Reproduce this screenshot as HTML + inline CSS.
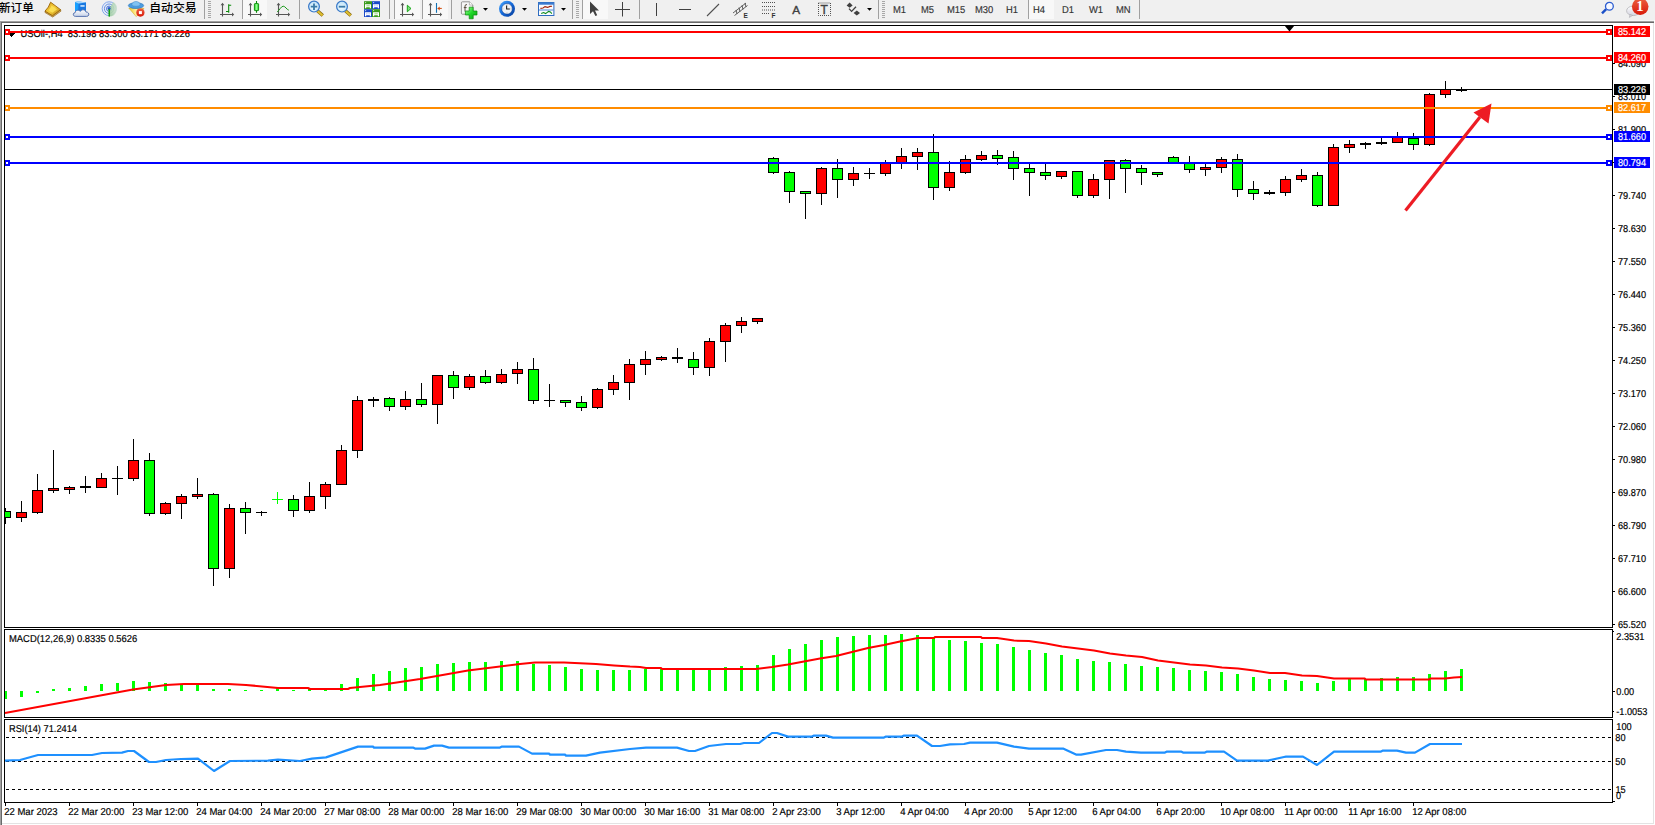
<!DOCTYPE html>
<html lang="zh-CN"><head><meta charset="utf-8"><title>USOil H4</title>
<style>
html,body{margin:0;padding:0;background:#fff;}
body{width:1655px;height:825px;overflow:hidden;position:relative;font-family:"Liberation Sans","Noto Sans CJK SC",sans-serif;}
#chart{position:absolute;left:0;top:0;}
#tb{position:absolute;left:0;top:0;width:1655px;height:20px;background:#f0f0f0;overflow:hidden;}
#tbline{position:absolute;left:0;top:20px;width:1654px;height:3px;background:linear-gradient(#f6f6f6 0,#f6f6f6 33.3%,#a0a0a0 33.3%,#a0a0a0 66.6%,#696969 66.6%,#696969 100%);}
#bl{position:absolute;left:0;top:22px;width:2px;height:803px;background:linear-gradient(90deg,#a0a0a0 0,#a0a0a0 50%,#696969 50%,#696969 100%);}
#br{position:absolute;left:1653px;top:23px;width:1px;height:801px;background:#e3e3e3;}
#bb{position:absolute;left:2px;top:823px;width:1652px;height:1px;background:#e3e3e3;}
#bb2{position:absolute;left:0;top:824px;width:1655px;height:1px;background:#f0f0f0;}
.t{position:absolute;white-space:nowrap;color:#000;}
.cj{font-size:11.6px;line-height:14px;top:0.5px;color:#000;font-weight:500;}
.tf{font-size:10px;line-height:12px;top:5.4px;color:#333;transform:scaleX(.94);transform-origin:0 0;text-rendering:geometricPrecision;-webkit-text-stroke:0.15px #333;}
.sep{position:absolute;top:0;width:1px;height:19px;background:#a0a0a0;}
.grip{position:absolute;top:1px;width:3px;height:18px;background:repeating-linear-gradient(#a8a8a8 0,#a8a8a8 1px,#f0f0f0 1px,#f0f0f0 2px);}
.pr{position:absolute;top:0;height:19px;background:#f8f8f8;border-left:1px solid #a0a0a0;box-sizing:border-box;}
.ic{position:absolute;top:0;overflow:visible;}
</style></head><body>
<svg id="chart" width="1655" height="825" viewBox="0 0 1655 825" shape-rendering="crispEdges">
<rect x="4" y="25" width="1609" height="1" fill="#000"/>
<rect x="4" y="627" width="1609" height="1" fill="#000"/>
<rect x="4" y="629" width="1609" height="1" fill="#000"/>
<rect x="4" y="717" width="1609" height="1" fill="#000"/>
<rect x="4" y="719" width="1609" height="1" fill="#000"/>
<rect x="4" y="802" width="1609" height="1" fill="#000"/>
<rect x="4" y="25" width="1" height="778" fill="#000"/>
<rect x="1612" y="25" width="1" height="778" fill="#000"/>
<g id="candles">
<rect x="5" y="508" width="1" height="16" fill="#000"/>
<rect x="0" y="511" width="11" height="7" fill="#000"/>
<rect x="1" y="512" width="9" height="5" fill="#00ff00"/>
<rect x="21" y="501" width="1" height="21" fill="#000"/>
<rect x="16" y="512" width="11" height="6" fill="#000"/>
<rect x="17" y="513" width="9" height="4" fill="#ff0000"/>
<rect x="37" y="474" width="1" height="40" fill="#000"/>
<rect x="32" y="490" width="11" height="23" fill="#000"/>
<rect x="33" y="491" width="9" height="21" fill="#ff0000"/>
<rect x="53" y="450" width="1" height="43" fill="#000"/>
<rect x="48" y="488" width="11" height="3" fill="#000"/>
<rect x="49" y="489" width="9" height="1" fill="#ff0000"/>
<rect x="69" y="486" width="1" height="8" fill="#000"/>
<rect x="64" y="487" width="11" height="3" fill="#000"/>
<rect x="65" y="488" width="9" height="1" fill="#ff0000"/>
<rect x="85" y="476" width="1" height="17" fill="#000"/>
<rect x="80" y="486" width="11" height="2" fill="#000"/>
<rect x="101" y="473" width="1" height="15" fill="#000"/>
<rect x="96" y="478" width="11" height="10" fill="#000"/>
<rect x="97" y="479" width="9" height="8" fill="#ff0000"/>
<rect x="117" y="466" width="1" height="29" fill="#000"/>
<rect x="112" y="478" width="11" height="1" fill="#000"/>
<rect x="133" y="439" width="1" height="42" fill="#000"/>
<rect x="128" y="460" width="11" height="19" fill="#000"/>
<rect x="129" y="461" width="9" height="17" fill="#ff0000"/>
<rect x="149" y="453" width="1" height="63" fill="#000"/>
<rect x="144" y="460" width="11" height="54" fill="#000"/>
<rect x="145" y="461" width="9" height="52" fill="#00ff00"/>
<rect x="165" y="502" width="1" height="13" fill="#000"/>
<rect x="160" y="503" width="11" height="11" fill="#000"/>
<rect x="161" y="504" width="9" height="9" fill="#ff0000"/>
<rect x="181" y="494" width="1" height="25" fill="#000"/>
<rect x="176" y="496" width="11" height="8" fill="#000"/>
<rect x="177" y="497" width="9" height="6" fill="#ff0000"/>
<rect x="197" y="478" width="1" height="21" fill="#000"/>
<rect x="192" y="494" width="11" height="3" fill="#000"/>
<rect x="193" y="495" width="9" height="1" fill="#ff0000"/>
<rect x="213" y="493" width="1" height="93" fill="#000"/>
<rect x="208" y="494" width="11" height="75" fill="#000"/>
<rect x="209" y="495" width="9" height="73" fill="#00ff00"/>
<rect x="229" y="504" width="1" height="74" fill="#000"/>
<rect x="224" y="508" width="11" height="61" fill="#000"/>
<rect x="225" y="509" width="9" height="59" fill="#ff0000"/>
<rect x="245" y="502" width="1" height="32" fill="#000"/>
<rect x="240" y="508" width="11" height="5" fill="#000"/>
<rect x="241" y="509" width="9" height="3" fill="#00ff00"/>
<rect x="261" y="511" width="1" height="5" fill="#000"/>
<rect x="256" y="512" width="11" height="1" fill="#000"/>
<rect x="277" y="492" width="1" height="12" fill="#00ff00"/>
<rect x="272" y="499" width="11" height="1" fill="#00ff00"/>
<rect x="293" y="495" width="1" height="22" fill="#000"/>
<rect x="288" y="499" width="11" height="12" fill="#000"/>
<rect x="289" y="500" width="9" height="10" fill="#00ff00"/>
<rect x="309" y="482" width="1" height="31" fill="#000"/>
<rect x="304" y="496" width="11" height="15" fill="#000"/>
<rect x="305" y="497" width="9" height="13" fill="#ff0000"/>
<rect x="325" y="482" width="1" height="27" fill="#000"/>
<rect x="320" y="484" width="11" height="13" fill="#000"/>
<rect x="321" y="485" width="9" height="11" fill="#ff0000"/>
<rect x="341" y="445" width="1" height="40" fill="#000"/>
<rect x="336" y="450" width="11" height="35" fill="#000"/>
<rect x="337" y="451" width="9" height="33" fill="#ff0000"/>
<rect x="357" y="396" width="1" height="62" fill="#000"/>
<rect x="352" y="400" width="11" height="51" fill="#000"/>
<rect x="353" y="401" width="9" height="49" fill="#ff0000"/>
<rect x="373" y="397" width="1" height="10" fill="#000"/>
<rect x="368" y="399" width="11" height="2" fill="#000"/>
<rect x="389" y="397" width="1" height="14" fill="#000"/>
<rect x="384" y="398" width="11" height="9" fill="#000"/>
<rect x="385" y="399" width="9" height="7" fill="#00ff00"/>
<rect x="405" y="391" width="1" height="19" fill="#000"/>
<rect x="400" y="399" width="11" height="8" fill="#000"/>
<rect x="401" y="400" width="9" height="6" fill="#ff0000"/>
<rect x="421" y="383" width="1" height="24" fill="#000"/>
<rect x="416" y="399" width="11" height="6" fill="#000"/>
<rect x="417" y="400" width="9" height="4" fill="#00ff00"/>
<rect x="437" y="375" width="1" height="49" fill="#000"/>
<rect x="432" y="375" width="11" height="30" fill="#000"/>
<rect x="433" y="376" width="9" height="28" fill="#ff0000"/>
<rect x="453" y="371" width="1" height="28" fill="#000"/>
<rect x="448" y="375" width="11" height="13" fill="#000"/>
<rect x="449" y="376" width="9" height="11" fill="#00ff00"/>
<rect x="469" y="374" width="1" height="16" fill="#000"/>
<rect x="464" y="376" width="11" height="12" fill="#000"/>
<rect x="465" y="377" width="9" height="10" fill="#ff0000"/>
<rect x="485" y="370" width="1" height="14" fill="#000"/>
<rect x="480" y="376" width="11" height="7" fill="#000"/>
<rect x="481" y="377" width="9" height="5" fill="#00ff00"/>
<rect x="501" y="369" width="1" height="15" fill="#000"/>
<rect x="496" y="374" width="11" height="9" fill="#000"/>
<rect x="497" y="375" width="9" height="7" fill="#ff0000"/>
<rect x="517" y="362" width="1" height="22" fill="#000"/>
<rect x="512" y="369" width="11" height="5" fill="#000"/>
<rect x="513" y="370" width="9" height="3" fill="#ff0000"/>
<rect x="533" y="358" width="1" height="46" fill="#000"/>
<rect x="528" y="369" width="11" height="32" fill="#000"/>
<rect x="529" y="370" width="9" height="30" fill="#00ff00"/>
<rect x="549" y="384" width="1" height="23" fill="#000"/>
<rect x="544" y="400" width="11" height="1" fill="#000"/>
<rect x="565" y="400" width="1" height="7" fill="#000"/>
<rect x="560" y="400" width="11" height="3" fill="#000"/>
<rect x="561" y="401" width="9" height="1" fill="#00ff00"/>
<rect x="581" y="396" width="1" height="15" fill="#000"/>
<rect x="576" y="402" width="11" height="6" fill="#000"/>
<rect x="577" y="403" width="9" height="4" fill="#00ff00"/>
<rect x="597" y="388" width="1" height="21" fill="#000"/>
<rect x="592" y="389" width="11" height="19" fill="#000"/>
<rect x="593" y="390" width="9" height="17" fill="#ff0000"/>
<rect x="613" y="375" width="1" height="20" fill="#000"/>
<rect x="608" y="382" width="11" height="8" fill="#000"/>
<rect x="609" y="383" width="9" height="6" fill="#ff0000"/>
<rect x="629" y="359" width="1" height="41" fill="#000"/>
<rect x="624" y="364" width="11" height="19" fill="#000"/>
<rect x="625" y="365" width="9" height="17" fill="#ff0000"/>
<rect x="645" y="351" width="1" height="24" fill="#000"/>
<rect x="640" y="359" width="11" height="6" fill="#000"/>
<rect x="641" y="360" width="9" height="4" fill="#ff0000"/>
<rect x="661" y="356" width="1" height="5" fill="#000"/>
<rect x="656" y="357" width="11" height="3" fill="#000"/>
<rect x="657" y="358" width="9" height="1" fill="#ff0000"/>
<rect x="677" y="348" width="1" height="15" fill="#000"/>
<rect x="672" y="357" width="11" height="2" fill="#000"/>
<rect x="693" y="352" width="1" height="23" fill="#000"/>
<rect x="688" y="359" width="11" height="9" fill="#000"/>
<rect x="689" y="360" width="9" height="7" fill="#00ff00"/>
<rect x="709" y="338" width="1" height="38" fill="#000"/>
<rect x="704" y="341" width="11" height="27" fill="#000"/>
<rect x="705" y="342" width="9" height="25" fill="#ff0000"/>
<rect x="725" y="323" width="1" height="39" fill="#000"/>
<rect x="720" y="325" width="11" height="17" fill="#000"/>
<rect x="721" y="326" width="9" height="15" fill="#ff0000"/>
<rect x="741" y="317" width="1" height="16" fill="#000"/>
<rect x="736" y="321" width="11" height="5" fill="#000"/>
<rect x="737" y="322" width="9" height="3" fill="#ff0000"/>
<rect x="757" y="318" width="1" height="6" fill="#000"/>
<rect x="752" y="318" width="11" height="4" fill="#000"/>
<rect x="753" y="319" width="9" height="2" fill="#ff0000"/>
<rect x="773" y="157" width="1" height="17" fill="#000"/>
<rect x="768" y="158" width="11" height="15" fill="#000"/>
<rect x="769" y="159" width="9" height="13" fill="#00ff00"/>
<rect x="789" y="171" width="1" height="32" fill="#000"/>
<rect x="784" y="172" width="11" height="20" fill="#000"/>
<rect x="785" y="173" width="9" height="18" fill="#00ff00"/>
<rect x="805" y="191" width="1" height="28" fill="#000"/>
<rect x="800" y="191" width="11" height="3" fill="#000"/>
<rect x="801" y="192" width="9" height="1" fill="#00ff00"/>
<rect x="821" y="167" width="1" height="38" fill="#000"/>
<rect x="816" y="168" width="11" height="26" fill="#000"/>
<rect x="817" y="169" width="9" height="24" fill="#ff0000"/>
<rect x="837" y="159" width="1" height="39" fill="#000"/>
<rect x="832" y="168" width="11" height="12" fill="#000"/>
<rect x="833" y="169" width="9" height="10" fill="#00ff00"/>
<rect x="853" y="167" width="1" height="19" fill="#000"/>
<rect x="848" y="173" width="11" height="7" fill="#000"/>
<rect x="849" y="174" width="9" height="5" fill="#ff0000"/>
<rect x="869" y="168" width="1" height="11" fill="#000"/>
<rect x="864" y="173" width="11" height="1" fill="#000"/>
<rect x="885" y="160" width="1" height="16" fill="#000"/>
<rect x="880" y="162" width="11" height="12" fill="#000"/>
<rect x="881" y="163" width="9" height="10" fill="#ff0000"/>
<rect x="901" y="148" width="1" height="21" fill="#000"/>
<rect x="896" y="156" width="11" height="8" fill="#000"/>
<rect x="897" y="157" width="9" height="6" fill="#ff0000"/>
<rect x="917" y="148" width="1" height="22" fill="#000"/>
<rect x="912" y="152" width="11" height="5" fill="#000"/>
<rect x="913" y="153" width="9" height="3" fill="#ff0000"/>
<rect x="933" y="134" width="1" height="66" fill="#000"/>
<rect x="928" y="152" width="11" height="36" fill="#000"/>
<rect x="929" y="153" width="9" height="34" fill="#00ff00"/>
<rect x="949" y="161" width="1" height="30" fill="#000"/>
<rect x="944" y="172" width="11" height="16" fill="#000"/>
<rect x="945" y="173" width="9" height="14" fill="#ff0000"/>
<rect x="965" y="155" width="1" height="19" fill="#000"/>
<rect x="960" y="159" width="11" height="14" fill="#000"/>
<rect x="961" y="160" width="9" height="12" fill="#ff0000"/>
<rect x="981" y="151" width="1" height="10" fill="#000"/>
<rect x="976" y="155" width="11" height="5" fill="#000"/>
<rect x="977" y="156" width="9" height="3" fill="#ff0000"/>
<rect x="997" y="150" width="1" height="15" fill="#000"/>
<rect x="992" y="155" width="11" height="4" fill="#000"/>
<rect x="993" y="156" width="9" height="2" fill="#00ff00"/>
<rect x="1013" y="151" width="1" height="29" fill="#000"/>
<rect x="1008" y="157" width="11" height="12" fill="#000"/>
<rect x="1009" y="158" width="9" height="10" fill="#00ff00"/>
<rect x="1029" y="164" width="1" height="32" fill="#000"/>
<rect x="1024" y="168" width="11" height="5" fill="#000"/>
<rect x="1025" y="169" width="9" height="3" fill="#00ff00"/>
<rect x="1045" y="164" width="1" height="16" fill="#000"/>
<rect x="1040" y="172" width="11" height="4" fill="#000"/>
<rect x="1041" y="173" width="9" height="2" fill="#00ff00"/>
<rect x="1061" y="171" width="1" height="8" fill="#000"/>
<rect x="1056" y="171" width="11" height="6" fill="#000"/>
<rect x="1057" y="172" width="9" height="4" fill="#ff0000"/>
<rect x="1077" y="171" width="1" height="27" fill="#000"/>
<rect x="1072" y="171" width="11" height="25" fill="#000"/>
<rect x="1073" y="172" width="9" height="23" fill="#00ff00"/>
<rect x="1093" y="174" width="1" height="24" fill="#000"/>
<rect x="1088" y="179" width="11" height="17" fill="#000"/>
<rect x="1089" y="180" width="9" height="15" fill="#ff0000"/>
<rect x="1109" y="160" width="1" height="39" fill="#000"/>
<rect x="1104" y="160" width="11" height="20" fill="#000"/>
<rect x="1105" y="161" width="9" height="18" fill="#ff0000"/>
<rect x="1125" y="159" width="1" height="34" fill="#000"/>
<rect x="1120" y="160" width="11" height="9" fill="#000"/>
<rect x="1121" y="161" width="9" height="7" fill="#00ff00"/>
<rect x="1141" y="165" width="1" height="20" fill="#000"/>
<rect x="1136" y="168" width="11" height="5" fill="#000"/>
<rect x="1137" y="169" width="9" height="3" fill="#00ff00"/>
<rect x="1157" y="172" width="1" height="5" fill="#000"/>
<rect x="1152" y="172" width="11" height="3" fill="#000"/>
<rect x="1153" y="173" width="9" height="1" fill="#00ff00"/>
<rect x="1173" y="156" width="1" height="8" fill="#000"/>
<rect x="1168" y="157" width="11" height="7" fill="#000"/>
<rect x="1169" y="158" width="9" height="5" fill="#00ff00"/>
<rect x="1189" y="156" width="1" height="17" fill="#000"/>
<rect x="1184" y="162" width="11" height="8" fill="#000"/>
<rect x="1185" y="163" width="9" height="6" fill="#00ff00"/>
<rect x="1205" y="164" width="1" height="12" fill="#000"/>
<rect x="1200" y="167" width="11" height="3" fill="#000"/>
<rect x="1201" y="168" width="9" height="1" fill="#ff0000"/>
<rect x="1221" y="157" width="1" height="16" fill="#000"/>
<rect x="1216" y="159" width="11" height="9" fill="#000"/>
<rect x="1217" y="160" width="9" height="7" fill="#ff0000"/>
<rect x="1237" y="154" width="1" height="43" fill="#000"/>
<rect x="1232" y="159" width="11" height="31" fill="#000"/>
<rect x="1233" y="160" width="9" height="29" fill="#00ff00"/>
<rect x="1253" y="181" width="1" height="19" fill="#000"/>
<rect x="1248" y="189" width="11" height="5" fill="#000"/>
<rect x="1249" y="190" width="9" height="3" fill="#00ff00"/>
<rect x="1269" y="190" width="1" height="5" fill="#000"/>
<rect x="1264" y="192" width="11" height="2" fill="#000"/>
<rect x="1285" y="176" width="1" height="20" fill="#000"/>
<rect x="1280" y="179" width="11" height="14" fill="#000"/>
<rect x="1281" y="180" width="9" height="12" fill="#ff0000"/>
<rect x="1301" y="169" width="1" height="13" fill="#000"/>
<rect x="1296" y="175" width="11" height="5" fill="#000"/>
<rect x="1297" y="176" width="9" height="3" fill="#ff0000"/>
<rect x="1317" y="172" width="1" height="35" fill="#000"/>
<rect x="1312" y="175" width="11" height="31" fill="#000"/>
<rect x="1313" y="176" width="9" height="29" fill="#00ff00"/>
<rect x="1333" y="144" width="1" height="62" fill="#000"/>
<rect x="1328" y="147" width="11" height="59" fill="#000"/>
<rect x="1329" y="148" width="9" height="57" fill="#ff0000"/>
<rect x="1349" y="140" width="1" height="13" fill="#000"/>
<rect x="1344" y="144" width="11" height="4" fill="#000"/>
<rect x="1345" y="145" width="9" height="2" fill="#ff0000"/>
<rect x="1365" y="142" width="1" height="7" fill="#000"/>
<rect x="1360" y="143" width="11" height="2" fill="#000"/>
<rect x="1381" y="138" width="1" height="7" fill="#000"/>
<rect x="1376" y="142" width="11" height="2" fill="#000"/>
<rect x="1397" y="132" width="1" height="11" fill="#000"/>
<rect x="1392" y="137" width="11" height="6" fill="#000"/>
<rect x="1393" y="138" width="9" height="4" fill="#ff0000"/>
<rect x="1413" y="133" width="1" height="17" fill="#000"/>
<rect x="1408" y="138" width="11" height="7" fill="#000"/>
<rect x="1409" y="139" width="9" height="5" fill="#00ff00"/>
<rect x="1429" y="93" width="1" height="53" fill="#000"/>
<rect x="1424" y="94" width="11" height="51" fill="#000"/>
<rect x="1425" y="95" width="9" height="49" fill="#ff0000"/>
<rect x="1445" y="81" width="1" height="17" fill="#000"/>
<rect x="1440" y="89" width="11" height="6" fill="#000"/>
<rect x="1441" y="90" width="9" height="4" fill="#ff0000"/>
<rect x="1461" y="87" width="1" height="5" fill="#000"/>
<rect x="1456" y="90" width="11" height="1" fill="#000"/>
</g>
<rect x="2" y="26" width="2" height="600" fill="#fff"/>
<text transform="translate(20.5 36.9) scale(0.918 1)" font-family="Liberation Sans, sans-serif" font-size="10.0" text-rendering="geometricPrecision" fill="#000" stroke="#000" stroke-width="0.18" textLength="184.641" lengthAdjust="spacingAndGlyphs" xml:space="preserve">USOil-,H4  83.198 83.300 83.171 83.226</text>
<rect x="8" y="33" width="7" height="1" fill="#000"/>
<rect x="9" y="34" width="5" height="1" fill="#000"/>
<rect x="10" y="35" width="3" height="1" fill="#000"/>
<rect x="11" y="36" width="1" height="1" fill="#000"/>
<rect x="4" y="89" width="1609" height="1" fill="#000"/>
<rect x="4" y="31" width="1608" height="2" fill="#ff0000"/>
<rect x="4" y="57" width="1608" height="2" fill="#ff0000"/>
<rect x="4" y="107" width="1608" height="2" fill="#ff8c00"/>
<rect x="4" y="136" width="1608" height="2" fill="#0000ff"/>
<rect x="4" y="162" width="1608" height="2" fill="#0000ff"/>
<rect x="4" y="29" width="6" height="6" fill="#ff0000"/>
<rect x="6" y="31" width="2" height="2" fill="#fff"/>
<rect x="1606" y="29" width="6" height="6" fill="#ff0000"/>
<rect x="1608" y="31" width="2" height="2" fill="#fff"/>
<rect x="4" y="55" width="6" height="6" fill="#ff0000"/>
<rect x="6" y="57" width="2" height="2" fill="#fff"/>
<rect x="1606" y="55" width="6" height="6" fill="#ff0000"/>
<rect x="1608" y="57" width="2" height="2" fill="#fff"/>
<rect x="4" y="105" width="6" height="6" fill="#ff8c00"/>
<rect x="6" y="107" width="2" height="2" fill="#fff"/>
<rect x="1606" y="105" width="6" height="6" fill="#ff8c00"/>
<rect x="1608" y="107" width="2" height="2" fill="#fff"/>
<rect x="4" y="134" width="6" height="6" fill="#0000ff"/>
<rect x="6" y="136" width="2" height="2" fill="#fff"/>
<rect x="1606" y="134" width="6" height="6" fill="#0000ff"/>
<rect x="1608" y="136" width="2" height="2" fill="#fff"/>
<rect x="4" y="160" width="6" height="6" fill="#0000ff"/>
<rect x="6" y="162" width="2" height="2" fill="#fff"/>
<rect x="1606" y="160" width="6" height="6" fill="#0000ff"/>
<rect x="1608" y="162" width="2" height="2" fill="#fff"/>
<g shape-rendering="geometricPrecision"><line x1="1405.5" y1="210.5" x2="1480" y2="117" stroke="#ed1c24" stroke-width="3.2"/><polygon points="1491.5,103.5 1473.5,112.5 1488.5,123.5" fill="#ed1c24"/></g>
<polygon points="1284.5,25.5 1294.5,25.5 1289.5,31.5" fill="#000" shape-rendering="geometricPrecision"/>
<g id="macd" fill="#00ff00">
<rect x="52" y="689" width="3" height="2"/>
<rect x="68" y="688" width="3" height="3"/>
<rect x="84" y="686" width="3" height="5"/>
<rect x="100" y="684" width="3" height="7"/>
<rect x="116" y="683" width="3" height="8"/>
<rect x="132" y="681" width="3" height="10"/>
<rect x="148" y="682" width="3" height="9"/>
<rect x="164" y="683" width="3" height="8"/>
<rect x="180" y="684" width="3" height="7"/>
<rect x="196" y="685" width="3" height="6"/>
<rect x="212" y="689" width="3" height="2"/>
<rect x="228" y="689" width="3" height="2"/>
<rect x="244" y="690" width="3" height="1"/>
<rect x="260" y="690" width="3" height="1"/>
<rect x="276" y="688" width="3" height="3"/>
<rect x="292" y="690" width="3" height="1"/>
<rect x="308" y="689" width="3" height="2"/>
<rect x="324" y="689" width="3" height="2"/>
<rect x="340" y="684" width="3" height="7"/>
<rect x="356" y="678" width="3" height="13"/>
<rect x="372" y="674" width="3" height="17"/>
<rect x="388" y="671" width="3" height="20"/>
<rect x="404" y="668" width="3" height="23"/>
<rect x="420" y="667" width="3" height="24"/>
<rect x="436" y="664" width="3" height="27"/>
<rect x="452" y="663" width="3" height="28"/>
<rect x="468" y="662" width="3" height="29"/>
<rect x="484" y="662" width="3" height="29"/>
<rect x="500" y="661" width="3" height="30"/>
<rect x="516" y="661" width="3" height="30"/>
<rect x="532" y="664" width="3" height="27"/>
<rect x="548" y="665" width="3" height="26"/>
<rect x="564" y="667" width="3" height="24"/>
<rect x="580" y="669" width="3" height="22"/>
<rect x="596" y="670" width="3" height="21"/>
<rect x="612" y="670" width="3" height="21"/>
<rect x="628" y="670" width="3" height="21"/>
<rect x="644" y="669" width="3" height="22"/>
<rect x="660" y="669" width="3" height="22"/>
<rect x="676" y="670" width="3" height="21"/>
<rect x="692" y="670" width="3" height="21"/>
<rect x="708" y="670" width="3" height="21"/>
<rect x="724" y="667" width="3" height="24"/>
<rect x="740" y="666" width="3" height="25"/>
<rect x="756" y="665" width="3" height="26"/>
<rect x="772" y="655" width="3" height="36"/>
<rect x="788" y="649" width="3" height="42"/>
<rect x="804" y="644" width="3" height="47"/>
<rect x="820" y="640" width="3" height="51"/>
<rect x="836" y="637" width="3" height="54"/>
<rect x="852" y="636" width="3" height="55"/>
<rect x="868" y="635" width="3" height="56"/>
<rect x="884" y="635" width="3" height="56"/>
<rect x="900" y="634" width="3" height="57"/>
<rect x="916" y="635" width="3" height="56"/>
<rect x="932" y="638" width="3" height="53"/>
<rect x="948" y="640" width="3" height="51"/>
<rect x="964" y="641" width="3" height="50"/>
<rect x="980" y="643" width="3" height="48"/>
<rect x="996" y="644" width="3" height="47"/>
<rect x="1012" y="647" width="3" height="44"/>
<rect x="1028" y="650" width="3" height="41"/>
<rect x="1044" y="653" width="3" height="38"/>
<rect x="1060" y="655" width="3" height="36"/>
<rect x="1076" y="659" width="3" height="32"/>
<rect x="1092" y="661" width="3" height="30"/>
<rect x="1108" y="662" width="3" height="29"/>
<rect x="1124" y="664" width="3" height="27"/>
<rect x="1140" y="666" width="3" height="25"/>
<rect x="1156" y="667" width="3" height="24"/>
<rect x="1172" y="668" width="3" height="23"/>
<rect x="1188" y="670" width="3" height="21"/>
<rect x="1204" y="671" width="3" height="20"/>
<rect x="1220" y="672" width="3" height="19"/>
<rect x="1236" y="674" width="3" height="17"/>
<rect x="1252" y="677" width="3" height="14"/>
<rect x="1268" y="679" width="3" height="12"/>
<rect x="1284" y="680" width="3" height="11"/>
<rect x="1300" y="681" width="3" height="10"/>
<rect x="1316" y="683" width="3" height="8"/>
<rect x="1332" y="681" width="3" height="10"/>
<rect x="1348" y="679" width="3" height="12"/>
<rect x="1364" y="679" width="3" height="12"/>
<rect x="1380" y="678" width="3" height="13"/>
<rect x="1396" y="677" width="3" height="14"/>
<rect x="1412" y="677" width="3" height="14"/>
<rect x="1428" y="674" width="3" height="17"/>
<rect x="1444" y="671" width="3" height="20"/>
<rect x="1460" y="669" width="3" height="22"/>
<rect x="4" y="691" width="3" height="8"/>
<rect x="20" y="691" width="3" height="6"/>
<rect x="36" y="691" width="3" height="2"/>
</g>
<rect x="2" y="630" width="2" height="86" fill="#fff"/>
<polyline points="5,713 133,689.4 166,685 184,684 228,684 246,685 262,686.4 278,688 308,688 310,689 348,689 350,688 380,685 420,679 468,670.6 520,664 535,662.6 564,662.6 596,664 614,665.4 630,666.6 640,667 646,668 661,668 662,669 756,669 772,667 788,664.6 804,661.4 820,658.6 836,656 852,652 868,648 884,645 900,641.4 918,638 934,638 935,637 981,637 982,638 997,638 1014,640.6 1029,641 1046,643.4 1062,646.6 1078,648.6 1094,650.4 1110,653.4 1126,655.4 1142,657 1158,660.6 1174,662.6 1190,664.6 1206,665.4 1222,667.4 1238,668.4 1254,670.6 1270,673 1285,673 1302,675.6 1317,676 1334,678.6 1365,678.6 1366,679.6 1429,679.6 1430,678.6 1445,678.6 1454,677.4 1462,677" fill="none" stroke="#ff0000" stroke-width="2" stroke-linejoin="round" shape-rendering="geometricPrecision"/>
<line x1="6" y1="737.5" x2="1612" y2="737.5" stroke="#000" stroke-width="1" stroke-dasharray="3,3"/>
<line x1="6" y1="761.5" x2="1612" y2="761.5" stroke="#000" stroke-width="1" stroke-dasharray="3,3"/>
<line x1="6" y1="789.5" x2="1612" y2="789.5" stroke="#000" stroke-width="1" stroke-dasharray="3,3"/>
<polyline points="5,760.6 20,760 38,755 92,755 102,753 122,752.6 128,751 134,751 149,762 156,762 166,760 181,759 198,758.6 214,771 230,761 268,760.6 278,759.6 300,761 312,758.6 326,757.4 358,746.6 373,746.6 374,747.6 413,747.6 415,748.6 425,748.6 434,745.6 442,745.6 449,747.6 500,747.6 502,746.6 519,746.6 532,753.6 549,753.6 550,754.6 565,754.6 566,755.6 586,755.6 600,752.6 630,749 646,747.6 677,747.6 689,751 695,751 709,746 726,744 740,744 744,743 759,743 772,733 777,733 788,736.6 812,736.6 814,735.6 826,735.6 833,737.6 884,737.6 886,736.6 902,736.6 904,735.6 917,735.6 932,746 940,746 950,744.4 964,744 970,742.6 997,742.6 1014,746.6 1029,748.6 1063,748.6 1076,754.6 1081,754.6 1106,750 1117,750 1126,751.6 1141,752.6 1165,752.6 1167,751.6 1181,751.6 1183,752.6 1205,752.6 1207,751.6 1224,751.6 1237,760.6 1268,760.6 1284,757 1286,756.6 1303,756.6 1317,765 1334,751.6 1381,751.6 1383,750.6 1397,750.6 1406,752.6 1415,752.6 1430,744 1462,744" fill="none" stroke="#1e90ff" stroke-width="2.2" stroke-linejoin="round" shape-rendering="geometricPrecision"/>
<rect x="4" y="25" width="1" height="778" fill="#000"/>
<rect x="4" y="628" width="1" height="1" fill="#fff"/>
<rect x="4" y="718" width="1" height="1" fill="#fff"/>
<rect x="1612" y="628" width="1" height="1" fill="#fff"/>
<rect x="1612" y="718" width="1" height="1" fill="#fff"/>
<g shape-rendering="geometricPrecision">
<rect x="1613" y="63" width="2" height="1" fill="#000"/>
<text transform="translate(1618 67) scale(0.918 1)" font-family="Liberation Sans, sans-serif" font-size="10.0" text-rendering="geometricPrecision" fill="#000" stroke="#000" stroke-width="0.18">84.090</text>
<rect x="1613" y="96" width="2" height="1" fill="#000"/>
<text transform="translate(1618 100) scale(0.918 1)" font-family="Liberation Sans, sans-serif" font-size="10.0" text-rendering="geometricPrecision" fill="#000" stroke="#000" stroke-width="0.18">83.010</text>
<rect x="1613" y="129" width="2" height="1" fill="#000"/>
<text transform="translate(1618 133) scale(0.918 1)" font-family="Liberation Sans, sans-serif" font-size="10.0" text-rendering="geometricPrecision" fill="#000" stroke="#000" stroke-width="0.18">81.900</text>
<rect x="1613" y="162" width="2" height="1" fill="#000"/>
<text transform="translate(1618 166) scale(0.918 1)" font-family="Liberation Sans, sans-serif" font-size="10.0" text-rendering="geometricPrecision" fill="#000" stroke="#000" stroke-width="0.18">80.820</text>
<rect x="1613" y="195" width="2" height="1" fill="#000"/>
<text transform="translate(1618 199) scale(0.918 1)" font-family="Liberation Sans, sans-serif" font-size="10.0" text-rendering="geometricPrecision" fill="#000" stroke="#000" stroke-width="0.18">79.740</text>
<rect x="1613" y="228" width="2" height="1" fill="#000"/>
<text transform="translate(1618 232) scale(0.918 1)" font-family="Liberation Sans, sans-serif" font-size="10.0" text-rendering="geometricPrecision" fill="#000" stroke="#000" stroke-width="0.18">78.630</text>
<rect x="1613" y="261" width="2" height="1" fill="#000"/>
<text transform="translate(1618 265) scale(0.918 1)" font-family="Liberation Sans, sans-serif" font-size="10.0" text-rendering="geometricPrecision" fill="#000" stroke="#000" stroke-width="0.18">77.550</text>
<rect x="1613" y="294" width="2" height="1" fill="#000"/>
<text transform="translate(1618 298) scale(0.918 1)" font-family="Liberation Sans, sans-serif" font-size="10.0" text-rendering="geometricPrecision" fill="#000" stroke="#000" stroke-width="0.18">76.440</text>
<rect x="1613" y="327" width="2" height="1" fill="#000"/>
<text transform="translate(1618 331) scale(0.918 1)" font-family="Liberation Sans, sans-serif" font-size="10.0" text-rendering="geometricPrecision" fill="#000" stroke="#000" stroke-width="0.18">75.360</text>
<rect x="1613" y="360" width="2" height="1" fill="#000"/>
<text transform="translate(1618 364) scale(0.918 1)" font-family="Liberation Sans, sans-serif" font-size="10.0" text-rendering="geometricPrecision" fill="#000" stroke="#000" stroke-width="0.18">74.250</text>
<rect x="1613" y="393" width="2" height="1" fill="#000"/>
<text transform="translate(1618 397) scale(0.918 1)" font-family="Liberation Sans, sans-serif" font-size="10.0" text-rendering="geometricPrecision" fill="#000" stroke="#000" stroke-width="0.18">73.170</text>
<rect x="1613" y="426" width="2" height="1" fill="#000"/>
<text transform="translate(1618 430) scale(0.918 1)" font-family="Liberation Sans, sans-serif" font-size="10.0" text-rendering="geometricPrecision" fill="#000" stroke="#000" stroke-width="0.18">72.060</text>
<rect x="1613" y="459" width="2" height="1" fill="#000"/>
<text transform="translate(1618 463) scale(0.918 1)" font-family="Liberation Sans, sans-serif" font-size="10.0" text-rendering="geometricPrecision" fill="#000" stroke="#000" stroke-width="0.18">70.980</text>
<rect x="1613" y="492" width="2" height="1" fill="#000"/>
<text transform="translate(1618 496) scale(0.918 1)" font-family="Liberation Sans, sans-serif" font-size="10.0" text-rendering="geometricPrecision" fill="#000" stroke="#000" stroke-width="0.18">69.870</text>
<rect x="1613" y="525" width="2" height="1" fill="#000"/>
<text transform="translate(1618 529) scale(0.918 1)" font-family="Liberation Sans, sans-serif" font-size="10.0" text-rendering="geometricPrecision" fill="#000" stroke="#000" stroke-width="0.18">68.790</text>
<rect x="1613" y="558" width="2" height="1" fill="#000"/>
<text transform="translate(1618 562) scale(0.918 1)" font-family="Liberation Sans, sans-serif" font-size="10.0" text-rendering="geometricPrecision" fill="#000" stroke="#000" stroke-width="0.18">67.710</text>
<rect x="1613" y="591" width="2" height="1" fill="#000"/>
<text transform="translate(1618 595) scale(0.918 1)" font-family="Liberation Sans, sans-serif" font-size="10.0" text-rendering="geometricPrecision" fill="#000" stroke="#000" stroke-width="0.18">66.600</text>
<rect x="1613" y="624" width="2" height="1" fill="#000"/>
<text transform="translate(1618 628) scale(0.918 1)" font-family="Liberation Sans, sans-serif" font-size="10.0" text-rendering="geometricPrecision" fill="#000" stroke="#000" stroke-width="0.18">65.520</text>
</g>
<rect x="1614" y="26" width="36" height="11" fill="#ff0000"/>
<text transform="translate(1618 34.9) scale(0.918 1)" font-family="Liberation Sans, sans-serif" font-size="10.0" text-rendering="geometricPrecision" fill="#fff" stroke="#fff" stroke-width="0.18">85.142</text>
<rect x="1614" y="52" width="36" height="11" fill="#ff0000"/>
<text transform="translate(1618 60.9) scale(0.918 1)" font-family="Liberation Sans, sans-serif" font-size="10.0" text-rendering="geometricPrecision" fill="#fff" stroke="#fff" stroke-width="0.18">84.260</text>
<rect x="1614" y="102" width="36" height="11" fill="#ff8c00"/>
<text transform="translate(1618 110.9) scale(0.918 1)" font-family="Liberation Sans, sans-serif" font-size="10.0" text-rendering="geometricPrecision" fill="#fff" stroke="#fff" stroke-width="0.18">82.617</text>
<rect x="1614" y="131" width="36" height="11" fill="#0000ff"/>
<text transform="translate(1618 139.9) scale(0.918 1)" font-family="Liberation Sans, sans-serif" font-size="10.0" text-rendering="geometricPrecision" fill="#fff" stroke="#fff" stroke-width="0.18">81.660</text>
<rect x="1614" y="157" width="36" height="11" fill="#0000ff"/>
<text transform="translate(1618 165.9) scale(0.918 1)" font-family="Liberation Sans, sans-serif" font-size="10.0" text-rendering="geometricPrecision" fill="#fff" stroke="#fff" stroke-width="0.18">80.794</text>
<rect x="1614" y="84" width="36" height="11" fill="#000"/>
<text transform="translate(1618 92.9) scale(0.918 1)" font-family="Liberation Sans, sans-serif" font-size="10.0" text-rendering="geometricPrecision" fill="#fff" stroke="#fff" stroke-width="0.18">83.226</text>
<g shape-rendering="geometricPrecision">
<text transform="translate(1616.3 640.1) scale(0.918 1)" font-family="Liberation Sans, sans-serif" font-size="10.0" text-rendering="geometricPrecision" fill="#000" stroke="#000" stroke-width="0.18">2.3531</text>
<text transform="translate(1616.3 695) scale(0.918 1)" font-family="Liberation Sans, sans-serif" font-size="10.0" text-rendering="geometricPrecision" fill="#000" stroke="#000" stroke-width="0.18">0.00</text>
<text transform="translate(1616.3 714.6) scale(0.918 1)" font-family="Liberation Sans, sans-serif" font-size="10.0" text-rendering="geometricPrecision" fill="#000" stroke="#000" stroke-width="0.18">-1.0053</text>
<text transform="translate(1616.3 730.2) scale(0.918 1)" font-family="Liberation Sans, sans-serif" font-size="10.0" text-rendering="geometricPrecision" fill="#000" stroke="#000" stroke-width="0.18">100</text>
<text transform="translate(1615.3 741.3) scale(0.918 1)" font-family="Liberation Sans, sans-serif" font-size="10.0" text-rendering="geometricPrecision" fill="#000" stroke="#000" stroke-width="0.18">80</text>
<text transform="translate(1615.3 765.3) scale(0.918 1)" font-family="Liberation Sans, sans-serif" font-size="10.0" text-rendering="geometricPrecision" fill="#000" stroke="#000" stroke-width="0.18">50</text>
<text transform="translate(1615.5 792.7) scale(0.918 1)" font-family="Liberation Sans, sans-serif" font-size="10.0" text-rendering="geometricPrecision" fill="#000" stroke="#000" stroke-width="0.18">15</text>
<text transform="translate(1616 798.8) scale(0.918 1)" font-family="Liberation Sans, sans-serif" font-size="10.0" text-rendering="geometricPrecision" fill="#000" stroke="#000" stroke-width="0.18">0</text>
</g>
<rect x="1613" y="631" width="1" height="1" fill="#000"/>
<rect x="1613" y="691" width="2" height="1" fill="#000"/>
<rect x="1613" y="711" width="1" height="1" fill="#000"/>
<rect x="1613" y="801" width="2" height="1" fill="#000"/>
<text transform="translate(9 641.6) scale(0.918 1)" font-family="Liberation Sans, sans-serif" font-size="10.0" text-rendering="geometricPrecision" fill="#000" stroke="#000" stroke-width="0.18" textLength="139.651" lengthAdjust="spacingAndGlyphs">MACD(12,26,9) 0.8335 0.5626</text>
<text transform="translate(9 731.7) scale(0.918 1)" font-family="Liberation Sans, sans-serif" font-size="10.0" text-rendering="geometricPrecision" fill="#000" stroke="#000" stroke-width="0.18" textLength="74.0741" lengthAdjust="spacingAndGlyphs">RSI(14) 71.2414</text>
<rect x="5" y="803" width="1" height="3" fill="#000"/>
<text transform="translate(4.2 815.2) scale(0.952 1)" font-family="Liberation Sans, sans-serif" font-size="10.0" text-rendering="geometricPrecision" fill="#000" stroke="#000" stroke-width="0.18">22 Mar 2023</text>
<rect x="69" y="803" width="1" height="3" fill="#000"/>
<text transform="translate(68.2 815.2) scale(0.952 1)" font-family="Liberation Sans, sans-serif" font-size="10.0" text-rendering="geometricPrecision" fill="#000" stroke="#000" stroke-width="0.18">22 Mar 20:00</text>
<rect x="133" y="803" width="1" height="3" fill="#000"/>
<text transform="translate(132.2 815.2) scale(0.952 1)" font-family="Liberation Sans, sans-serif" font-size="10.0" text-rendering="geometricPrecision" fill="#000" stroke="#000" stroke-width="0.18">23 Mar 12:00</text>
<rect x="197" y="803" width="1" height="3" fill="#000"/>
<text transform="translate(196.2 815.2) scale(0.952 1)" font-family="Liberation Sans, sans-serif" font-size="10.0" text-rendering="geometricPrecision" fill="#000" stroke="#000" stroke-width="0.18">24 Mar 04:00</text>
<rect x="261" y="803" width="1" height="3" fill="#000"/>
<text transform="translate(260.2 815.2) scale(0.952 1)" font-family="Liberation Sans, sans-serif" font-size="10.0" text-rendering="geometricPrecision" fill="#000" stroke="#000" stroke-width="0.18">24 Mar 20:00</text>
<rect x="325" y="803" width="1" height="3" fill="#000"/>
<text transform="translate(324.2 815.2) scale(0.952 1)" font-family="Liberation Sans, sans-serif" font-size="10.0" text-rendering="geometricPrecision" fill="#000" stroke="#000" stroke-width="0.18">27 Mar 08:00</text>
<rect x="389" y="803" width="1" height="3" fill="#000"/>
<text transform="translate(388.2 815.2) scale(0.952 1)" font-family="Liberation Sans, sans-serif" font-size="10.0" text-rendering="geometricPrecision" fill="#000" stroke="#000" stroke-width="0.18">28 Mar 00:00</text>
<rect x="453" y="803" width="1" height="3" fill="#000"/>
<text transform="translate(452.2 815.2) scale(0.952 1)" font-family="Liberation Sans, sans-serif" font-size="10.0" text-rendering="geometricPrecision" fill="#000" stroke="#000" stroke-width="0.18">28 Mar 16:00</text>
<rect x="517" y="803" width="1" height="3" fill="#000"/>
<text transform="translate(516.2 815.2) scale(0.952 1)" font-family="Liberation Sans, sans-serif" font-size="10.0" text-rendering="geometricPrecision" fill="#000" stroke="#000" stroke-width="0.18">29 Mar 08:00</text>
<rect x="581" y="803" width="1" height="3" fill="#000"/>
<text transform="translate(580.2 815.2) scale(0.952 1)" font-family="Liberation Sans, sans-serif" font-size="10.0" text-rendering="geometricPrecision" fill="#000" stroke="#000" stroke-width="0.18">30 Mar 00:00</text>
<rect x="645" y="803" width="1" height="3" fill="#000"/>
<text transform="translate(644.2 815.2) scale(0.952 1)" font-family="Liberation Sans, sans-serif" font-size="10.0" text-rendering="geometricPrecision" fill="#000" stroke="#000" stroke-width="0.18">30 Mar 16:00</text>
<rect x="709" y="803" width="1" height="3" fill="#000"/>
<text transform="translate(708.2 815.2) scale(0.952 1)" font-family="Liberation Sans, sans-serif" font-size="10.0" text-rendering="geometricPrecision" fill="#000" stroke="#000" stroke-width="0.18">31 Mar 08:00</text>
<rect x="773" y="803" width="1" height="3" fill="#000"/>
<text transform="translate(772.2 815.2) scale(0.952 1)" font-family="Liberation Sans, sans-serif" font-size="10.0" text-rendering="geometricPrecision" fill="#000" stroke="#000" stroke-width="0.18">2 Apr 23:00</text>
<rect x="837" y="803" width="1" height="3" fill="#000"/>
<text transform="translate(836.2 815.2) scale(0.952 1)" font-family="Liberation Sans, sans-serif" font-size="10.0" text-rendering="geometricPrecision" fill="#000" stroke="#000" stroke-width="0.18">3 Apr 12:00</text>
<rect x="901" y="803" width="1" height="3" fill="#000"/>
<text transform="translate(900.2 815.2) scale(0.952 1)" font-family="Liberation Sans, sans-serif" font-size="10.0" text-rendering="geometricPrecision" fill="#000" stroke="#000" stroke-width="0.18">4 Apr 04:00</text>
<rect x="965" y="803" width="1" height="3" fill="#000"/>
<text transform="translate(964.2 815.2) scale(0.952 1)" font-family="Liberation Sans, sans-serif" font-size="10.0" text-rendering="geometricPrecision" fill="#000" stroke="#000" stroke-width="0.18">4 Apr 20:00</text>
<rect x="1029" y="803" width="1" height="3" fill="#000"/>
<text transform="translate(1028.2 815.2) scale(0.952 1)" font-family="Liberation Sans, sans-serif" font-size="10.0" text-rendering="geometricPrecision" fill="#000" stroke="#000" stroke-width="0.18">5 Apr 12:00</text>
<rect x="1093" y="803" width="1" height="3" fill="#000"/>
<text transform="translate(1092.2 815.2) scale(0.952 1)" font-family="Liberation Sans, sans-serif" font-size="10.0" text-rendering="geometricPrecision" fill="#000" stroke="#000" stroke-width="0.18">6 Apr 04:00</text>
<rect x="1157" y="803" width="1" height="3" fill="#000"/>
<text transform="translate(1156.2 815.2) scale(0.952 1)" font-family="Liberation Sans, sans-serif" font-size="10.0" text-rendering="geometricPrecision" fill="#000" stroke="#000" stroke-width="0.18">6 Apr 20:00</text>
<rect x="1221" y="803" width="1" height="3" fill="#000"/>
<text transform="translate(1220.2 815.2) scale(0.952 1)" font-family="Liberation Sans, sans-serif" font-size="10.0" text-rendering="geometricPrecision" fill="#000" stroke="#000" stroke-width="0.18">10 Apr 08:00</text>
<rect x="1285" y="803" width="1" height="3" fill="#000"/>
<text transform="translate(1284.2 815.2) scale(0.952 1)" font-family="Liberation Sans, sans-serif" font-size="10.0" text-rendering="geometricPrecision" fill="#000" stroke="#000" stroke-width="0.18">11 Apr 00:00</text>
<rect x="1349" y="803" width="1" height="3" fill="#000"/>
<text transform="translate(1348.2 815.2) scale(0.952 1)" font-family="Liberation Sans, sans-serif" font-size="10.0" text-rendering="geometricPrecision" fill="#000" stroke="#000" stroke-width="0.18">11 Apr 16:00</text>
<rect x="1413" y="803" width="1" height="3" fill="#000"/>
<text transform="translate(1412.2 815.2) scale(0.952 1)" font-family="Liberation Sans, sans-serif" font-size="10.0" text-rendering="geometricPrecision" fill="#000" stroke="#000" stroke-width="0.18">12 Apr 08:00</text>
</svg>
<div id="tbline"></div>
<div id="tb"><div class="sep" style="left:204px"></div><div class="grip" style="left:208px"></div>
<div class="pr" style="left:242px;width:25px"></div>
<div class="sep" style="left:299px"></div>
<div class="sep" style="left:389px"></div>
<div class="pr" style="left:394px;width:26px"></div>
<div class="pr" style="left:422px;width:26px"></div>
<div class="sep" style="left:451px"></div>
<div class="sep" style="left:572px"></div><div class="grip" style="left:575.5px"></div>
<div class="pr" style="left:582px;width:26px"></div>
<div class="sep" style="left:639px"></div>
<div class="sep" style="left:878px"></div><div class="grip" style="left:881.5px"></div>
<div class="pr" style="left:1028px;width:26px"></div>
<div class="sep" style="left:1139px"></div>
<span class="t cj" style="left:-1px">新订单</span>
<span class="t cj" style="left:149.2px;font-size:11.9px">自动交易</span>
<svg class="ic" width="1655" height="20" viewBox="0 0 1655 20">
<defs>
<linearGradient id="gold" x1="0" y1="0" x2="1" y2="1"><stop offset="0" stop-color="#d8a020"/><stop offset="0.5" stop-color="#f4cc38"/><stop offset="1" stop-color="#b07c14"/></linearGradient>
<linearGradient id="sky" x1="0" y1="0" x2="0" y2="1"><stop offset="0" stop-color="#3aa0f0"/><stop offset="1" stop-color="#1668c8"/></linearGradient>
<radialGradient id="lens" cx="0.45" cy="0.6" r="0.7"><stop offset="0" stop-color="#f0fbff"/><stop offset="1" stop-color="#b4dcf6"/></radialGradient>
<linearGradient id="badge" x1="0" y1="0" x2="0" y2="1"><stop offset="0" stop-color="#ec6040"/><stop offset="1" stop-color="#d81808"/></linearGradient>
<radialGradient id="clk" cx="0.5" cy="0.5" r="0.5"><stop offset="0.6" stop-color="#ffffff"/><stop offset="0.62" stop-color="#2a6fd0"/><stop offset="1" stop-color="#0d47a1"/></radialGradient>
<linearGradient id="cloudg" x1="0" y1="0" x2="0" y2="1"><stop offset="0" stop-color="#ffffff"/><stop offset="1" stop-color="#c4d0e8"/></linearGradient>
<linearGradient id="sigg" x1="0" y1="0" x2="1" y2="0"><stop offset="0" stop-color="#9ccc9c"/><stop offset="1" stop-color="#cfe4cf"/></linearGradient>
<linearGradient id="cone" x1="0" y1="0" x2="1" y2="0"><stop offset="0" stop-color="#f2c820"/><stop offset="0.5" stop-color="#fff0a0"/><stop offset="1" stop-color="#f0c428"/></linearGradient>
<linearGradient id="cndl" x1="0" y1="0" x2="1" y2="0"><stop offset="0" stop-color="#20d020"/><stop offset="0.5" stop-color="#90ff90"/><stop offset="1" stop-color="#20d020"/></linearGradient>
<linearGradient id="plus" x1="0" y1="0" x2="1" y2="1"><stop offset="0" stop-color="#a0ffa0"/><stop offset="0.5" stop-color="#20d828"/><stop offset="1" stop-color="#08a010"/></linearGradient>
<linearGradient id="clkr" x1="0" y1="0" x2="1" y2="1"><stop offset="0" stop-color="#48a8ff"/><stop offset="0.5" stop-color="#1468d8"/><stop offset="1" stop-color="#083c98"/></linearGradient>
<linearGradient id="chatg" x1="0" y1="0" x2="0" y2="1"><stop offset="0" stop-color="#ffffff"/><stop offset="1" stop-color="#d4d4e0"/></linearGradient>
</defs>
<!-- gold book -->
<g id="i-book"><path d="M45 11.1 L52.5 15.7 L60.6 9.7 L60.9 11.2 L52.7 17.1 L45 12.5 Z" fill="#d8b060" stroke="#8a5c0a" stroke-width="0.6"/><path d="M50.6 2.2 L60.6 9.7 L52.5 15.7 L45 11.1 Q48.8 7.6 50.6 2.2 Z" fill="url(#gold)" stroke="#9a6408" stroke-width="0.9"/><path d="M51.6 5.4 L57 9.4 L52.4 12.8 L48.6 10.4 Q50.6 8.2 51.6 5.4Z" fill="#ffe860" opacity="0.7"/></g>
<!-- cloud/server -->
<g id="i-cloud"><path d="M75 2 L78.2 1.2 L86 2.6 L86 11.5 L75 11.5 Z" fill="url(#sky)"/><path d="M75 2 L78.6 3.4 L78.6 11.5 L75 11.5Z" fill="#18a0ff"/><path d="M78.6 3.4 L86 2.6 L86 11.5 L78.6 11.5Z" fill="#1878e0"/><path d="M75 2 L78.2 1.2 L86 2.6 L78.6 3.4Z" fill="#9fd4ff"/><rect x="80.4" y="5.2" width="4.2" height="1.5" fill="#e0f0ff"/><path d="M75.6 16.4 C72.6 16.4 72.6 12.7 75.2 12.6 C75.3 10 79 9.4 80.3 11.4 C81.6 9 85.7 9.4 85.9 12 C89.5 11.8 89.9 16.4 86.6 16.4 Z" fill="url(#cloudg)" stroke="#4a68a8" stroke-width="0.9"/></g>
<!-- signal -->
<g id="i-signal" fill="none"><circle cx="109.1" cy="8.7" r="7.9" fill="#e6edf8"/><circle cx="109.1" cy="8.7" r="6.9" stroke="#7d9fe4" stroke-width="0.9"/><circle cx="109.1" cy="8.7" r="4.7" stroke="#5a84dc" stroke-width="0.9"/><circle cx="109.1" cy="8.7" r="2.6" stroke="#3a68d2" stroke-width="0.9"/><path d="M109.1 8.7 L109.1 16.6 A7.9 7.9 0 0 0 113.4 2.1 Z" fill="url(#sigg)" fill-opacity="0.88" stroke="none"/><circle cx="109.1" cy="8.5" r="1.5" fill="#2456c8"/><rect x="108.5" y="9.2" width="1.5" height="7.4" fill="#12a012"/></g>
<!-- hat / autotrading -->
<g id="i-hat"><path d="M128.8 8 L136.2 16.6 L144 8.4 Z" fill="url(#cone)" stroke="#c8a018" stroke-width="0.5"/><ellipse cx="136" cy="5.6" rx="7.7" ry="2.9" fill="#4a9ce0" stroke="#2a74b8" stroke-width="0.6"/><path d="M131.8 5.2 C131.6 0.2 140.4 0.2 140.2 5.2 C138 6.6 134 6.6 131.8 5.2Z" fill="#7fc2f2" stroke="#3a86c8" stroke-width="0.5"/><circle cx="140.4" cy="12.6" r="4.1" fill="url(#badge)"/><rect x="138.9" y="11.1" width="3" height="3" fill="#fff"/></g>
<!-- bar chart icon -->
<g id="i-bars" fill="none"><path d="M222.5 4 V16.6 M220 14.5 H232.6" stroke="#555" stroke-width="1.1"/><path d="M220.6 5.2 L222.5 2.8 L224.4 5.2Z M232 12.6 L234.2 14.5 L232 16.4Z" fill="#555"/><path d="M228.7 4.3 V12.8 M228.7 5.3 H231.2 M226 11.5 H228.7" stroke="#0a8a0a" stroke-width="1.1"/></g>
<!-- candle icon (pressed) -->
<g id="i-candle" fill="none"><path d="M250.5 4 V16.6 M248 14.5 H260.6" stroke="#555" stroke-width="1.1"/><path d="M248.6 5.2 L250.5 2.8 L252.4 5.2Z M260 12.6 L262.2 14.5 L260 16.4Z" fill="#555"/><path d="M256.5 1 V12.8" stroke="#0a8a0a" stroke-width="1.1"/><rect x="254.4" y="3.6" width="4.2" height="7" rx="0.6" fill="url(#cndl)" stroke="#0a8a0a" stroke-width="0.9"/></g>
<!-- line chart icon -->
<g id="i-line" fill="none"><path d="M278.5 4 V16.6 M276 14.5 H288.6" stroke="#555" stroke-width="1.1"/><path d="M276.6 5.2 L278.5 2.8 L280.4 5.2Z M288 12.6 L290.2 14.5 L288 16.4Z" fill="#555"/><path d="M277.2 11.8 C279.5 10.5 281 6.2 283.2 6.2 C285.4 6.2 286.6 9.6 288.8 10.2" stroke="#1a9a1a" stroke-width="1"/></g>
<!-- zoom in -->
<g id="i-zin"><path d="M317.4 10.8 L322.8 15.6" stroke="#8a6a10" stroke-width="3.4"/><path d="M317.6 11 L322.6 15.4" stroke="#e0c030" stroke-width="2"/><circle cx="314" cy="6.6" r="5.4" fill="url(#lens)" stroke="#3878c8" stroke-width="1.2"/><path d="M310.8 6.7 H317.2 M314 3.5 V9.9" stroke="#3a7aa8" stroke-width="1.8"/></g>
<!-- zoom out -->
<g id="i-zout"><path d="M345.4 10.8 L350.8 15.6" stroke="#8a6a10" stroke-width="3.4"/><path d="M345.6 11 L350.6 15.4" stroke="#e0c030" stroke-width="2"/><circle cx="342" cy="6.6" r="5.4" fill="url(#lens)" stroke="#3878c8" stroke-width="1.2"/><path d="M338.8 6.7 H345.2" stroke="#3a7aa8" stroke-width="1.8"/></g>
<!-- grid -->
<g id="i-grid"><rect x="364" y="1.2" width="8" height="8" fill="#3a9a1c"/><rect x="372" y="1.2" width="8" height="8" fill="#1a4ac8"/><rect x="364" y="9.2" width="8" height="7.8" fill="#1a4ac8"/><rect x="372" y="9.2" width="8" height="7.8" fill="#3a9a1c"/><g fill="#fff"><path d="M365 4.2 h6 v4 h-1.2 v-1 h-3.6 v1 h-1.2z M373 4.2 h6 v4 h-1.2 v-1 h-3.6 v1 h-1.2z M365 12.2 h6 v4 h-1.2 v-1 h-3.6 v1 h-1.2z M373 12.2 h6 v4 h-1.2 v-1 h-3.6 v1 h-1.2z"/><rect x="365.2" y="2.2" width="0.9" height="0.9"/><rect x="373.2" y="2.2" width="0.9" height="0.9"/><rect x="365.2" y="10.2" width="0.9" height="0.9"/><rect x="373.2" y="10.2" width="0.9" height="0.9"/></g><path d="M366.4 5.8 h3.4 M374.4 13.8 h3.4" stroke="#8cd070" stroke-width="0.9"/><path d="M374.4 5.8 h1 m1.2 0 h1 M366.4 13.8 h1 m1.2 0 h1" stroke="#7a9af0" stroke-width="0.9"/></g>
<!-- autoscroll -->
<g id="i-auto" fill="none"><path d="M402.5 4 V16.6 M400 14.5 H412.6" stroke="#555" stroke-width="1.1"/><path d="M400.6 5.2 L402.5 2.8 L404.4 5.2Z M412 12.6 L414.2 14.5 L412 16.4Z" fill="#555"/><path d="M407.3 5.2 L411 8.5 L407.3 11.8 Z" fill="#7fe07f" stroke="#0aa00a" stroke-width="0.9"/></g>
<!-- shift -->
<g id="i-shift" fill="none"><path d="M430.5 4 V16.6 M428 14.5 H440.6" stroke="#555" stroke-width="1.1"/><path d="M428.6 5.2 L430.5 2.8 L432.4 5.2Z M440 12.6 L442.2 14.5 L440 16.4Z" fill="#555"/><path d="M436.5 3 V12.8" stroke="#1272b4" stroke-width="1.1"/><path d="M441.8 8.4 H438" stroke="#d04808" stroke-width="1"/><path d="M437.2 8.4 L440 6.4 L439.4 8.4 L440 10.4Z" fill="#d04808"/></g>
<!-- indicators -->
<g id="i-ind"><path d="M462.4 1.8 H469.4 L472.8 5 V13.2 Q472.8 14.2 471.8 14.2 H462.4 Q461.4 14.2 461.4 13.2 V2.8 Q461.4 1.8 462.4 1.8Z" fill="#f6f6f6" stroke="#808080" stroke-width="0.8"/><path d="M469.4 1.8 V5 H472.8" fill="#fff" stroke="#909090" stroke-width="0.6"/><path d="M465 11.5 V6 Q465 4.4 467 4.6 M463.8 7.6 H466.6" stroke="#4a4030" stroke-width="0.9" fill="none"/><path d="M469.2 7.2 h4 v3.8 h3.8 v4 h-3.8 v3.8 h-4 v-3.8 h-3.8 v-4 h3.8z" fill="url(#plus)" stroke="#0a8a0a" stroke-width="0.7"/></g>
<path d="M483 8 H488 L485.5 10.8 Z" fill="#000"/>
<!-- clock -->
<g id="i-clock"><circle cx="507" cy="8.8" r="8" fill="url(#clkr)"/><circle cx="507" cy="8.8" r="5.3" fill="#f0f2f4" stroke="#0a3c90" stroke-width="0.5"/><g stroke="#9098a0" stroke-width="0.6"><path d="M507 4.2 v1 M507 12.4 v1 M502.4 8.8 h1 M510.6 8.8 h1"/></g><path d="M506.6 5.4 V9 H509.8" stroke="#202020" stroke-width="1.1" fill="none"/></g>
<path d="M522 8 H527 L524.5 10.8 Z" fill="#000"/>
<!-- template -->
<g id="i-tpl"><rect x="538.5" y="2.5" width="15.4" height="13" fill="#fafcff" stroke="#2e6cc0" stroke-width="1"/><rect x="538.5" y="2.5" width="15.4" height="2.2" fill="#3a7ad0"/><path d="M539 10 H553.4" stroke="#3a7ad0" stroke-width="0.9"/><path d="M540.4 8.4 L543 8 L545 6.6 L547.6 7.4 L550 6.4 L552 6.2" stroke="#a02008" stroke-width="1.1" fill="none"/><path d="M541.2 13.6 L543.6 12.6 L545.6 13.6 L548.6 11.4 L550.4 12 L551.8 13.6" stroke="#0a8a1a" stroke-width="1.1" fill="none"/></g>
<path d="M561 8 H566 L563.5 10.8 Z" fill="#000"/>
<!-- cursor -->
<path d="M590 1.5 V14 L593 11.2 L595.4 16 L597.2 15.2 L595 10.6 L599 10.4 Z" fill="#404040"/>
<!-- crosshair -->
<path d="M622.5 2 V16.5 M615 9.5 H630" stroke="#404040" stroke-width="1" fill="none"/>
<!-- vline/hline/trend -->
<path d="M656.5 3 V16 M679 9.5 H691" stroke="#404040" stroke-width="1" fill="none"/>
<path d="M707 16 L719 4" stroke="#505050" stroke-width="1.1" fill="none"/>
<!-- channel E -->
<g id="i-chan" stroke="#505050" stroke-width="0.9" fill="none"><path d="M733 13 L746 3 M734.5 15.5 L747.5 5.5"/><path d="M736 10 L737 14 M739 7.6 L740 11.8 M742 5.2 L743 9.5 M745 3 L746 7"/></g>
<text x="743.5" y="17.6" font-family="Liberation Sans, sans-serif" font-size="6.5" font-weight="bold" fill="#303030">E</text>
<!-- fibo F -->
<g stroke="#505050" stroke-width="1" stroke-dasharray="1,1" fill="none"><path d="M762 2.5 H775 M762 6.5 H775 M762 10 H775 M762 13.5 H770"/></g>
<text x="771.5" y="17.6" font-family="Liberation Sans, sans-serif" font-size="6.5" font-weight="bold" fill="#303030">F</text>
<!-- A -->
<text x="792.2" y="13.8" font-family="Liberation Sans, sans-serif" font-size="11.8" fill="#404040" stroke="#404040" stroke-width="0.35">A</text>
<!-- T box -->
<rect x="818.5" y="3" width="12" height="12.5" fill="none" stroke="#505050" stroke-width="1" stroke-dasharray="1,1"/>
<text x="820.4" y="14.2" font-family="Liberation Sans, sans-serif" font-size="12" fill="#404040" stroke="#404040" stroke-width="0.4">T</text>
<!-- arrows -->
<g fill="#404040"><path d="M849.6 2.6 L852.6 5.4 L849.6 7.8 L846.6 5.4 Z"/><path d="M856.8 10.6 L860 13 L856.8 15.6 L853.6 13 Z"/></g><path d="M849 8.6 L851.6 11.4 L856 6.8" stroke="#404040" stroke-width="1.3" fill="none"/>
<path d="M867 8 H872 L869.5 10.8 Z" fill="#000"/>
<!-- search -->
<g id="i-search"><path d="M1602 13.4 L1606.2 9.2" stroke="#1c50c8" stroke-width="2.4"/><circle cx="1609.4" cy="6.2" r="3.9" fill="#f6f8ff" stroke="#2a5cd0" stroke-width="1.3"/></g>
<!-- chat + badge -->
<g id="i-chat"><ellipse cx="1633.2" cy="10.8" rx="6.6" ry="4.8" fill="url(#chatg)" stroke="#b4b4b8" stroke-width="0.8"/><path d="M1630 14.6 L1629.4 17.4 L1632.6 15.4 Z" fill="#dcdce4" stroke="#a8a8ac" stroke-width="0.6"/><circle cx="1640.2" cy="6.6" r="8.3" fill="url(#badge)"/></g>
<text x="1636.2" y="10.9" font-family="Liberation Serif, serif" font-size="14.6" font-weight="bold" fill="#fff">1</text>
</svg>
<span class="t tf" style="left:892.9px">M1</span><span class="t tf" style="left:921px">M5</span><span class="t tf" style="left:947.2px">M15</span><span class="t tf" style="left:975px">M30</span><span class="t tf" style="left:1006.2px">H1</span><span class="t tf" style="left:1033px">H4</span><span class="t tf" style="left:1062px">D1</span><span class="t tf" style="left:1089.4px">W1</span><span class="t tf" style="left:1115.8px">MN</span>
</div>
<div id="bl"></div><div id="br"></div><div id="bb"></div>
</body></html>
